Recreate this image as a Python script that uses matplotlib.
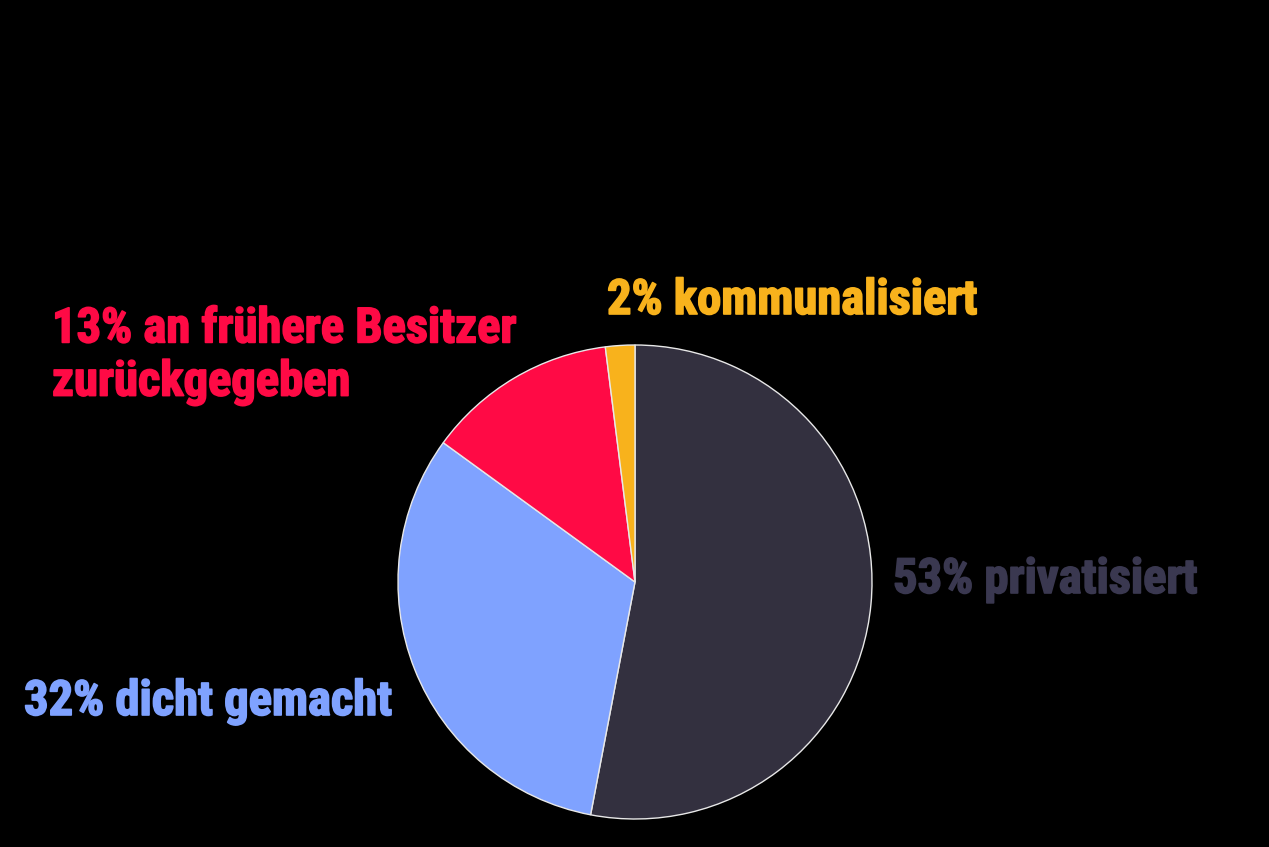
import matplotlib
matplotlib.use("Agg")
import matplotlib.pyplot as plt
import matplotlib.patheffects as pe

labels = ["53% privatisiert", "32% dicht gemacht", "13% an frühere Besitzer\nzurückgegeben", "2% kommunalisiert"]
values = [53, 32, 13, 2]
colors = ["#33303f", "#7fa2ff", "#ff0a45", "#f8b21c"]
label_colors = ["#3a3850", "#7fa2ff", "#ff0a45", "#f8b21c"]

W, H = 1269, 847
fig = plt.figure(figsize=(W / 100, H / 100), dpi=100, facecolor="black")

cx, cy, r = 635, 582, 237
ax = fig.add_axes([(cx - r) / W, (H - cy - r) / H, 2 * r / W, 2 * r / H])
ax.set_facecolor("black")
ax.pie(values, colors=colors, startangle=90, counterclock=False, radius=1,
       wedgeprops=dict(edgecolor="#e8e8e8", linewidth=1.0))
ax.set_xlim(-1.0, 1.0)
ax.set_ylim(-1.0, 1.0)
ax.set_aspect("equal")
ax.axis("off")

fs = 35
# positions (px): left x, center y
pos = {0: (893, 580), 1: (24, 702), 2: (52, 356), 3: (607, 301)}
for i, lab in enumerate(labels):
    x, y = pos[i]
    fig.text(x / W, 1 - y / H, lab, color=label_colors[i], ha="left", va="center",
             family=["Roboto Condensed", "DejaVu Sans"], fontweight="bold",
             fontsize=fs, linespacing=1.2,
             path_effects=[pe.withStroke(linewidth=1.2, foreground=label_colors[i])])

fig.savefig("out.png", dpi=100, facecolor="black")
